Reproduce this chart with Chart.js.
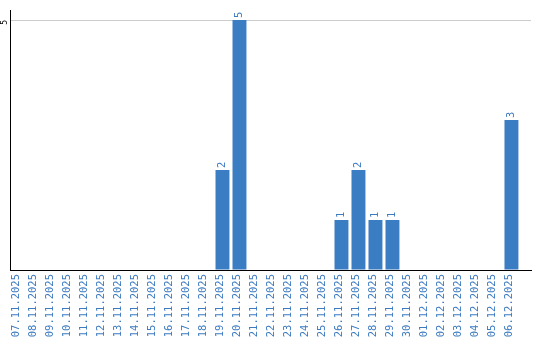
<!DOCTYPE html>
<html>
<head>
<meta charset="utf-8">
<script src="https://cdn.jsdelivr.net/npm/chart.js@4"></script>
<style>
  html, body { margin: 0; padding: 0; background: #fff; }
  #wrap { width: 540px; height: 340px; }
</style>
</head>
<body>
<div id="wrap"><canvas id="dailyChart"></canvas></div>
<script>
  const dates = [
    "07.11.2025", "08.11.2025", "09.11.2025", "10.11.2025", "11.11.2025",
    "12.11.2025", "13.11.2025", "14.11.2025", "15.11.2025", "16.11.2025",
    "17.11.2025", "18.11.2025", "19.11.2025", "20.11.2025", "21.11.2025",
    "22.11.2025", "23.11.2025", "24.11.2025", "25.11.2025", "26.11.2025",
    "27.11.2025", "28.11.2025", "29.11.2025", "30.11.2025", "01.12.2025",
    "02.12.2025", "03.12.2025", "04.12.2025", "05.12.2025", "06.12.2025",
  ];
  const counts = [
    0, 0, 0, 0, 0, 0, 0, 0, 0, 0, 0, 0,
    2, 5, 0, 0, 0, 0, 0,
    1, 2, 1, 1,
    0, 0, 0, 0, 0, 0,
    3,
  ];
  const yTicks = [0, 5];

  const barColor = "#3b7dc3";
  const textColor = "#3d7bc0";
  const monoFont = "'DejaVu Sans Mono', monospace";

  // value labels written upwards above each bar
  const barValues = {
    id: "barValues",
    afterDatasetsDraw(chart) {
      const ctx = chart.ctx;
      const meta = chart.getDatasetMeta(0);
      ctx.save();
      ctx.fillStyle = textColor;
      ctx.font = "10.5px " + monoFont;
      ctx.textAlign = "left";
      ctx.textBaseline = "middle";
      meta.data.forEach((bar, i) => {
        if (!counts[i]) return;
        ctx.save();
        ctx.translate(bar.x, bar.y - 2);
        ctx.rotate(-Math.PI / 2);
        ctx.fillText(String(counts[i]), 0, 0);
        ctx.restore();
      });
      ctx.restore();
    },
  };

  function initializeDailyChart() {
    const ctx = document.getElementById("dailyChart").getContext("2d");
    return new Chart(ctx, {
      type: "bar",
      data: {
        datasets: [
          {
            data: counts.map((v, i) => ({ x: i, y: v })),
            backgroundColor: barColor,
            borderWidth: 0,
            barPercentage: 0.82,
            categoryPercentage: 1,
          },
        ],
      },
      options: {
        responsive: true,
        maintainAspectRatio: false,
        animation: false,
        layout: { padding: { top: 10, right: 9, left: 0, bottom: 0 } },
        plugins: {
          legend: { display: false },
          tooltip: { enabled: false },
        },
        scales: {
          x: {
            type: "linear",
            offset: false,
            min: -0.5,
            max: 30.15,
            grid: { display: false, drawTicks: false, offset: false },
            border: { color: "#000", width: 1 },
            afterBuildTicks: (scale) => {
              scale.ticks = dates.map((d, i) => ({ value: i }));
            },
            afterFit: (scale) => {
              scale.height = 70;
              scale.paddingLeft = 0;
              scale.paddingRight = 0;
            },
            ticks: {
              autoSkip: false,
              minRotation: 90,
              maxRotation: 90,
              padding: 4,
              labelOffset: -2,
              color: textColor,
              font: { family: monoFont, size: 10.5 },
              callback: (v) => dates[v] ?? "",
            },
          },
          y: {
            min: 0,
            max: 5.2,
            grid: { color: "#cccccc", drawTicks: false },
            border: { color: "#000", width: 1 },
            afterBuildTicks: (scale) => {
              scale.ticks = yTicks.map((v) => ({ value: v }));
            },
            afterFit: (scale) => { scale.width = 10; },
            ticks: {
              minRotation: 90,
              padding: 5,
              color: "#000",
              font: { family: monoFont, size: 8 },
              callback: (v) => (v === 0 ? "" : String(v)),
            },
          },
        },
      },
      plugins: [barValues],
    });
  }

  document.addEventListener("DOMContentLoaded", () => {
    initializeDailyChart();
  });
</script>
</body>
</html>
